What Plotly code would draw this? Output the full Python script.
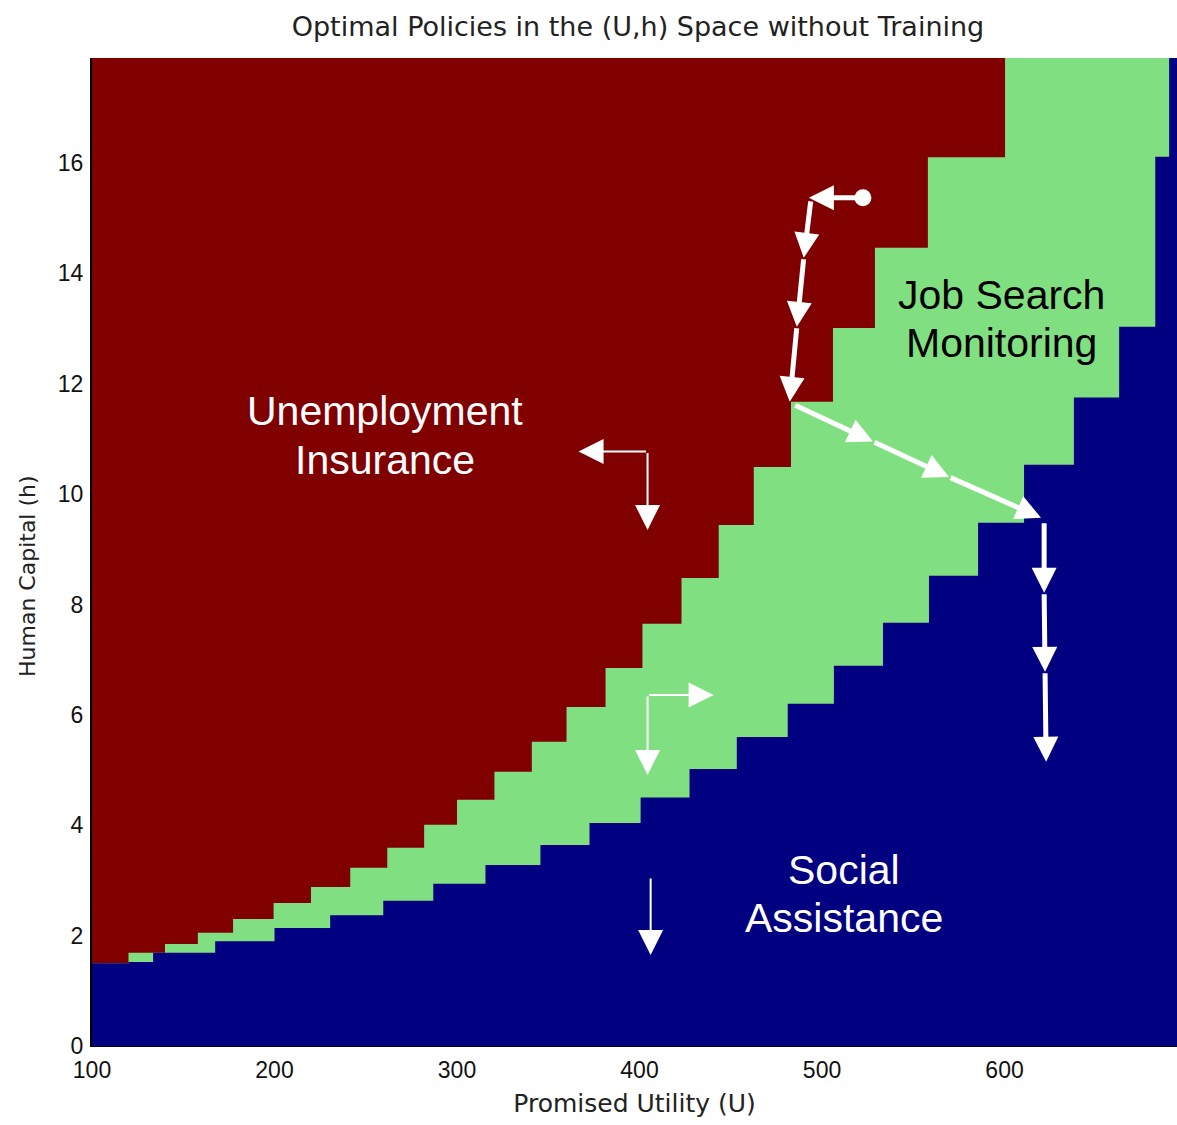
import plotly.graph_objects as go

# ---- data: policy region boundaries (step functions) ----
U_MIN, U_MAX = 100, 694.5
H_MIN, H_MAX = 0, 17.9

# upper boundary: Unemployment Insurance / Job Search Monitoring
ui_u = [100, 120, 140, 158, 177.3, 199.5, 220, 241.5, 261.8, 282, 300, 320.5, 341,
        360, 381.4, 401.6, 423, 443.4, 462.6, 483, 506, 529, 558, 600.3]
ui_h = [1.50, 1.69, 1.85, 2.05, 2.30, 2.59, 2.88, 3.23, 3.59, 4.01, 4.46, 4.97, 5.51,
        6.14, 6.85, 7.65, 8.48, 9.44, 10.49, 11.67, 13.01, 14.46, 16.10, 17.9]

# lower boundary: Job Search Monitoring / Social Assistance
sa_u = [100, 120, 133.5, 167.5, 200, 230.5, 259.6, 287, 315.6, 345.7, 372.6, 400.6,
        427.4, 453.3, 481.2, 506.5, 533.4, 558.6, 585.5, 610.7, 638, 662.8, 682.6, 690.2]
sa_h = [1.50, 1.52, 1.69, 1.90, 2.14, 2.37, 2.63, 2.94, 3.28, 3.64, 4.04, 4.50,
        5.02, 5.60, 6.20, 6.89, 7.67, 8.52, 9.48, 10.53, 11.75, 13.03, 16.11, 17.9]

# simulated path (thick arrows): tail -> head
path_tail_u = [522.4, 493.9, 490.0, 486.2, 484.5, 527.9, 569.6, 621.7, 621.7, 622.2]
path_tail_h = [15.37, 15.33, 14.28, 13.03, 11.62, 10.95, 10.31, 9.50, 8.21, 6.78]
path_head_u = [492.8, 490.0, 486.2, 482.3, 527.9, 569.6, 620.0, 621.7, 622.2, 622.8]
path_head_h = [15.37, 14.28, 13.03, 11.67, 10.95, 10.31, 9.57, 8.21, 6.78, 5.15]
start_u = [522.4]
start_h = [15.37]

# direction arrows (thin): tail -> head
dir_tail_u = [404.4, 404.4, 404.4, 404.4, 406.1]
dir_tail_h = [10.77, 10.77, 6.36, 6.36, 3.06]
dir_head_u = [366.6, 404.4, 440.6, 404.4, 406.1]
dir_head_h = [10.77, 9.35, 6.36, 4.91, 1.65]

# region labels (one entry per text line)
label_text = ["Unemployment", "Insurance", "Job Search", "Monitoring", "Social", "Assistance"]
label_u = [260.7, 260.7, 598.1, 598.1, 512.0, 512.0]
label_h = [11.51, 10.62, 13.61, 12.74, 3.19, 2.32]
label_color = ["white", "white", "black", "black", "white", "white"]

x_ticks = [100, 200, 300, 400, 500, 600]
y_ticks = [0, 2, 4, 6, 8, 10, 12, 14, 16]

RED = "#800000"
GREEN = "#80DF80"
NAVY = "#000080"

W, H = 1177, 1125
ML, MR, MT, MB = 92, 0, 58, 79

fig = go.Figure()

# Unemployment Insurance (whole area, covered by the others below)
fig.add_trace(go.Scatter(x=[U_MIN, U_MAX], y=[H_MAX, H_MAX], mode="lines",
                         line=dict(width=0, color=RED), fill="tozeroy",
                         fillcolor=RED, hoverinfo="skip", showlegend=False))
# Job Search Monitoring (below upper boundary)
fig.add_trace(go.Scatter(x=ui_u + [U_MAX], y=ui_h + [ui_h[-1]], mode="lines",
                         line=dict(width=0, color=GREEN, shape="hv"), fill="tozeroy",
                         fillcolor=GREEN, hoverinfo="skip", showlegend=False))
# Social Assistance (below lower boundary)
fig.add_trace(go.Scatter(x=sa_u + [U_MAX], y=sa_h + [sa_h[-1]], mode="lines",
                         line=dict(width=0, color=NAVY, shape="hv"), fill="tozeroy",
                         fillcolor=NAVY, hoverinfo="skip", showlegend=False))
# starting point of the path
fig.add_trace(go.Scatter(x=start_u, y=start_h, mode="markers",
                         marker=dict(size=17, color="white"), hoverinfo="skip",
                         showlegend=False))

annotations = []
for tu, th, hu, hh in zip(path_tail_u, path_tail_h, path_head_u, path_head_h):
    annotations.append(dict(x=hu, y=hh, ax=tu, ay=th, xref="x", yref="y",
                            axref="x", ayref="y", showarrow=True, text="",
                            arrowhead=2, arrowsize=1.0, arrowwidth=5,
                            arrowcolor="white", standoff=0, startstandoff=0))
for tu, th, hu, hh in zip(dir_tail_u, dir_tail_h, dir_head_u, dir_head_h):
    annotations.append(dict(x=hu, y=hh, ax=tu, ay=th, xref="x", yref="y",
                            axref="x", ayref="y", showarrow=True, text="",
                            arrowhead=2, arrowsize=2.5, arrowwidth=2,
                            arrowcolor="white", standoff=0, startstandoff=0))

label_font = "Liberation Sans, Arial, sans-serif"
for t, u, h, c in zip(label_text, label_u, label_h, label_color):
    annotations.append(dict(x=u, y=h, xref="x", yref="y", showarrow=False, text=t,
                            font=dict(family=label_font, size=41, color=c)))

# y-axis title (centred at pixel x=27, y=576 as in the reference)
annotations.append(dict(x=(27 - ML) / (W - ML - MR),
                        y=(H - MB - 576) / (H - MB - MT),
                        xref="paper", yref="paper", xanchor="center", yanchor="middle",
                        showarrow=False, text="Human Capital (h)", textangle=-90,
                        font=dict(family="DejaVu Sans, sans-serif", size=22,
                                  color="#222")))

fig.update_layout(
    width=W, height=H,
    margin=dict(l=ML, r=MR, t=MT, b=MB),
    paper_bgcolor="white", plot_bgcolor=RED,
    title=dict(text="Optimal Policies in the (U,h) Space without Training",
               x=638 / W, xanchor="center", y=1 - 27 / H, yanchor="middle",
               yref="container",
               font=dict(family="DejaVu Sans, sans-serif", size=27, color="#222")),
    annotations=annotations,
    showlegend=False,
)
fig.update_xaxes(range=[U_MIN, U_MAX], tickvals=x_ticks, showgrid=False,
                 zeroline=False, showline=True, linecolor="black", linewidth=1,
                 ticks="", ticklabelstandoff=3,
                 tickfont=dict(family=label_font, size=23, color="#111"),
                 title=dict(text="Promised Utility (U)", standoff=12,
                            font=dict(family="DejaVu Sans, sans-serif", size=25,
                                      color="#222")))
fig.update_yaxes(range=[H_MIN, H_MAX], tickvals=y_ticks, showgrid=False,
                 zeroline=False, showline=True, linecolor="black", linewidth=2,
                 ticks="", ticklabelstandoff=2,
                 tickfont=dict(family=label_font, size=23, color="#111"))

fig.write_html("out.html", config={"displayModeBar": False},
               post_script="document.body.style.margin='0';document.body.style.overflow='hidden';")
